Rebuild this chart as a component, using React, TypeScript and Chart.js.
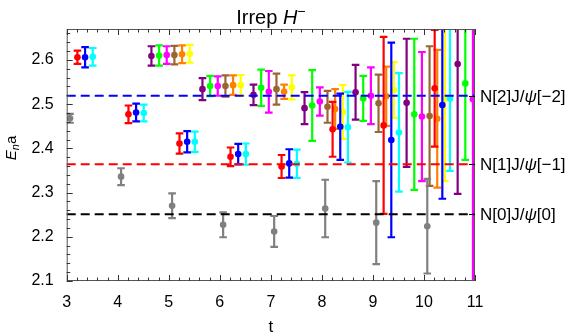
import React, { useEffect, useRef } from "react";
import { Chart, registerables } from "chart.js";

Chart.register(...registerables);

const FONT = '"Liberation Sans", Arial, Helvetica, sans-serif';

// Time slices
const timeSlices = [3, 4, 5, 6, 7, 8, 9, 10];

// Series values (energy) and errors for each time slice (null = absent)
const grayVals = [2.468, 2.336, 2.27, 2.227, 2.212, 2.264, 2.232, 2.224];
const grayErr = [0.01, 0.019, 0.028, 0.028, 0.035, 0.065, 0.094, 0.107];

const redVals = [2.606, 2.477, 2.411, 2.381, 2.359, 2.443, 2.452, 2.536];
const redErr = [0.015, 0.02, 0.023, 0.021, 0.026, 0.062, 0.2, 0.132];

const blueVals = [2.606, 2.481, 2.415, 2.387, 2.366, 2.449, 2.419, 2.498];
const blueErr = [0.023, 0.02, 0.024, 0.023, 0.032, 0.075, 0.22, 0.212];

const cyanVals = [2.607, 2.48, 2.415, 2.387, 2.365, 2.448, 2.436, 2.513];
const cyanErr = [0.02, 0.019, 0.023, 0.024, 0.032, 0.08, 0.134, 0.164];

const purpleVals = [null, 2.609, 2.534, 2.521, 2.491, 2.527, 2.503, 2.591];
const purpleErr = [null, 0.022, 0.025, 0.023, 0.036, 0.062, 0.145, 0.294];

const greenVals = [null, 2.61, 2.541, 2.537, 2.497, 2.513, 2.477, 2.547];
const greenErr = [null, 0.023, 0.023, 0.041, 0.08, 0.051, 0.171, 0.173];

const magentaVals = [null, 2.611, 2.541, 2.528, 2.506, 2.519, 2.472, 2.511];
const magentaErr = [null, 0.02, 0.022, 0.047, 0.032, 0.064, 0.146, 0.45];

const brownVals = [null, 2.611, 2.541, 2.534, 2.494, 2.502, 2.473, null];
const brownErr = [null, 0.021, 0.024, 0.035, 0.036, 0.065, 0.158, null];

const orangeVals = [null, 2.613, 2.543, 2.528, 2.489, 2.518, 2.467, null];
const orangeErr = [null, 0.02, 0.022, 0.016, 0.045, 0.067, 0.156, null];

const yellowVals = [null, 2.614, 2.543, 2.538, 2.482, 2.532, 2.512, null];
const yellowErr = [null, 0.02, 0.023, 0.027, 0.061, 0.063, 0.186, null];

// Non-interacting thresholds
const thresholdValues = [2.519, 2.364, 2.251];
const thresholdLabels = [
  ["N[2]J/", "ψ", "[−2]"],
  ["N[1]J/", "ψ", "[−1]"],
  ["N[0]J/", "ψ", "[0]"],
];

// Axis ticks
const xTickValues = [3, 4, 5, 6, 7, 8, 9, 10, 11];
const yTickValues = [2.1, 2.2, 2.3, 2.4, 2.5, 2.6];

// Styling (not data)
const seriesStyle = [
  { vals: grayVals, err: grayErr, color: "#808080", offset: 0.065 },
  { vals: redVals, err: redErr, color: "#ff0000", offset: 0.21 },
  { vals: blueVals, err: blueErr, color: "#0000ff", offset: 0.36 },
  { vals: cyanVals, err: cyanErr, color: "#00ffff", offset: 0.51 },
  { vals: purpleVals, err: purpleErr, color: "#800080", offset: 0.66 },
  { vals: greenVals, err: greenErr, color: "#00ff00", offset: 0.81 },
  { vals: magentaVals, err: magentaErr, color: "#ff00ff", offset: 0.96 },
  { vals: brownVals, err: brownErr, color: "#996633", offset: 1.11 },
  { vals: orangeVals, err: orangeErr, color: "#ff8000", offset: 1.26 },
  { vals: yellowVals, err: yellowErr, color: "#ffff00", offset: 1.41 },
];
const thresholdColors = ["#0000ff", "#ff0000", "#000000"];

type Part = { text: string; font: string; dy?: number };

function drawParts(ctx: CanvasRenderingContext2D, parts: Part[], x: number, y: number, align: "left" | "center") {
  let total = 0;
  const widths = parts.map((p) => {
    ctx.font = p.font;
    const w = ctx.measureText(p.text).width;
    total += w;
    return w;
  });
  let cx = align === "center" ? x - total / 2 : x;
  ctx.textAlign = "left";
  parts.forEach((p, i) => {
    ctx.font = p.font;
    ctx.fillText(p.text, cx, y + (p.dy || 0));
    cx += widths[i];
  });
}

const overlayPlugin = {
  id: "overlay",
  beforeDatasetDraw(chart: any, args: any) {
    const ds = chart.data.datasets[args.index];
    const { ctx, chartArea } = chart;
    const xs = chart.scales.x;
    const ys = chart.scales.y;
    ctx.save();
    ctx.beginPath();
    ctx.rect(chartArea.left, chartArea.top, chartArea.right - chartArea.left, chartArea.bottom - chartArea.top);
    ctx.clip();
    ctx.strokeStyle = ds.backgroundColor;
    ctx.lineWidth = 2.2;
    ds.data.forEach((pt: any) => {
      const px = xs.getPixelForValue(pt.x);
      const y1 = ys.getPixelForValue(pt.y + pt.e);
      const y2 = ys.getPixelForValue(pt.y - pt.e);
      ctx.beginPath();
      ctx.moveTo(px, y1);
      ctx.lineTo(px, y2);
      ctx.moveTo(px - 3.8, y1);
      ctx.lineTo(px + 3.8, y1);
      ctx.moveTo(px - 3.8, y2);
      ctx.lineTo(px + 3.8, y2);
      ctx.stroke();
    });
    ctx.restore();
  },
  afterDatasetsDraw(chart: any) {
    const { ctx, chartArea } = chart;
    const xs = chart.scales.x;
    const ys = chart.scales.y;
    const L = chartArea.left, R = chartArea.right, T = chartArea.top, B = chartArea.bottom;
    ctx.save();
    // threshold dashed lines
    ctx.lineWidth = 2;
    ctx.setLineDash([9, 5]);
    thresholdValues.forEach((v, i) => {
      const py = ys.getPixelForValue(v);
      ctx.strokeStyle = thresholdColors[i];
      ctx.beginPath();
      ctx.moveTo(L, py);
      ctx.lineTo(R, py);
      ctx.stroke();
    });
    ctx.setLineDash([]);
    // frame
    ctx.strokeStyle = "#555555";
    ctx.lineWidth = 1;
    ctx.strokeRect(L + 0.5, T + 0.5, R - L - 1, B - T - 1);
    // y ticks (major + minor) left
    ctx.strokeStyle = "#333333";
    for (let k = 0; k <= 30; k++) {
      const v = 2.1 + k * 0.02;
      if (v > 2.675) break;
      const py = Math.round(ys.getPixelForValue(v)) + 0.5;
      const major = k % 5 === 0;
      const len = major ? 6 : 3.5;
      ctx.beginPath();
      ctx.moveTo(L, py);
      ctx.lineTo(L + len, py);
      ctx.stroke();
    }
    // x ticks bottom and top
    xTickValues.forEach((v) => {
      const px = Math.round(xs.getPixelForValue(v)) + 0.5;
      ctx.beginPath();
      ctx.moveTo(px, B);
      ctx.lineTo(px, B - 6);
      ctx.moveTo(px, T);
      ctx.lineTo(px, T + 6);
      ctx.stroke();
    });
    for (let k = 0; k <= 40; k++) {
      if (k % 5 === 0) continue;
      const v = 3 + k * 0.2;
      const px = Math.round(xs.getPixelForValue(v)) + 0.5;
      ctx.beginPath();
      ctx.moveTo(px, B);
      ctx.lineTo(px, B - 3.5);
      ctx.moveTo(px, T);
      ctx.lineTo(px, T + 3.5);
      ctx.stroke();
    }
    // right ticks + labels
    ctx.fillStyle = "#000";
    ctx.textBaseline = "middle";
    thresholdValues.forEach((v, i) => {
      const py = Math.round(ys.getPixelForValue(v)) + 0.5;
      ctx.strokeStyle = "#000";
      ctx.beginPath();
      ctx.moveTo(R, py);
      ctx.lineTo(R - 6, py);
      ctx.stroke();
      const lab = thresholdLabels[i];
      drawParts(
        ctx,
        [
          { text: lab[0], font: `17px ${FONT}` },
          { text: lab[1], font: `italic 17px ${FONT}` },
          { text: lab[2], font: `17px ${FONT}` },
        ],
        R + 5,
        py + 1,
        "left"
      );
    });
    // title
    ctx.textBaseline = "alphabetic";
    drawParts(
      ctx,
      [
        { text: "Irrep ", font: `20px ${FONT}` },
        { text: "H", font: `italic 20px ${FONT}` },
        { text: "−", font: `14px ${FONT}`, dy: -8 },
      ],
      (L + R) / 2,
      24,
      "center"
    );
    // x label
    ctx.textAlign = "center";
    ctx.font = `17px ${FONT}`;
    ctx.fillText("t", (L + R) / 2, 332);
    // y label
    ctx.save();
    ctx.translate(16, (T + B) / 2 - 7);
    ctx.rotate(-Math.PI / 2);
    drawParts(
      ctx,
      [
        { text: "E", font: `italic 15px ${FONT}` },
        { text: "n", font: `italic 11px ${FONT}`, dy: 3 },
        { text: "a", font: `15px ${FONT}` },
      ],
      0,
      0,
      "center"
    );
    ctx.restore();
    ctx.restore();
  },
};

export default function App() {
  const canvasRef = useRef<HTMLCanvasElement | null>(null);

  useEffect(() => {
    document.body.style.margin = "0";
    const canvas = canvasRef.current;
    if (!canvas) return;
    const datasets = seriesStyle.map((s) => ({
      data: timeSlices
        .map((t, i) => (s.vals[i] == null ? null : { x: t + s.offset, y: s.vals[i] as number, e: s.err[i] as number }))
        .filter((p) => p !== null),
      backgroundColor: s.color,
      borderColor: s.color,
      pointRadius: 3.3,
      pointBorderWidth: 0,
      showLine: false,
    }));
    const chart = new Chart(canvas, {
      type: "scatter",
      data: { datasets: datasets as any },
      options: {
        responsive: false,
        animation: false,
        devicePixelRatio: 1,
        layout: { padding: { left: 0, right: 103, top: 29, bottom: 0 } },
        plugins: { legend: { display: false }, tooltip: { enabled: false }, title: { display: false } },
        scales: {
          x: {
            type: "linear",
            min: 3,
            max: 11,
            grid: { display: false },
            border: { display: false },
            ticks: { font: { size: 16, family: FONT }, color: "#000", padding: 4, maxRotation: 0, autoSkip: false },
            afterBuildTicks: (scale: any) => {
              scale.ticks = xTickValues.map((v) => ({ value: v }));
            },
            afterFit: (scale: any) => {
              scale.height = 53;
            },
          },
          y: {
            type: "linear",
            min: 2.1,
            max: 2.67,
            grid: { display: false },
            border: { display: false },
            ticks: {
              font: { size: 16, family: FONT },
              color: "#000",
              padding: 5,
              callback: (v: any) => Number(v).toFixed(1),
            },
            afterBuildTicks: (scale: any) => {
              scale.ticks = yTickValues.map((v) => ({ value: v }));
            },
            afterFit: (scale: any) => {
              scale.width = 66.7;
            },
          },
        },
      },
      plugins: [overlayPlugin],
    });
    return () => chart.destroy();
  }, []);

  return (
    <div style={{ width: 578, height: 334 }}>
      <canvas ref={canvasRef} width={578} height={334} style={{ display: "block" }} />
    </div>
  );
}
